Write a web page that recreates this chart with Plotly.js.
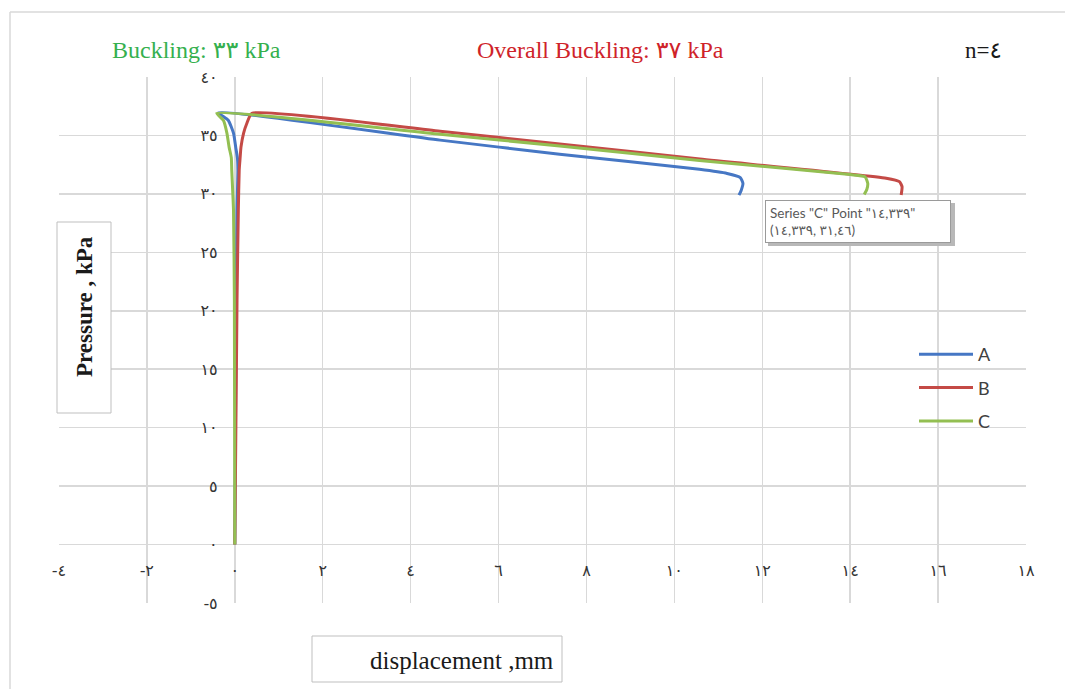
<!DOCTYPE html>
<html>
<head>
<meta charset="utf-8">
<script src="https://cdn.plot.ly/plotly-3.0.1.min.js"></script>
<style>
html,body{margin:0;padding:0;background:#fff;}
#chart{width:1065px;height:689px;}
</style>
</head>
<body>
<div id="chart"></div>
<script>
// Series A
const dispA = [0, 0.03, 0.05, 0.07, 0.06, 0.02, -0.03, -0.15, -0.37, 4.67, 7.39, 10.57, 11.2, 11.5, 11.56, 11.52, 11.47];
const presA = [0, 20.9, 28.6, 32.05, 33.05, 34.0, 35.2, 36.3, 36.95, 34.6, 33.4, 32.1, 31.75, 31.4, 30.9, 30.3, 29.9];
// Series B
const dispB = [0, 0.05, 0.08, 0.10, 0.12, 0.14, 0.20, 0.27, 0.39, 4.67, 7.39, 10.58, 14.82, 15.12, 15.18, 15.16];
const presB = [0, 20.9, 28.6, 32.05, 33.05, 34.0, 35.2, 36.0, 36.9, 35.36, 34.27, 32.98, 31.34, 31.05, 30.62, 29.9];
// Series C
const dispC = [0, -0.01, -0.03, -0.07, -0.08, -0.13, -0.18, -0.26, -0.41, 4.67, 7.39, 10.57, 14.0, 14.339, 14.40, 14.38, 14.32];
const presC = [0, 20.9, 28.6, 32.05, 33.1, 34.0, 35.2, 36.3, 36.9, 35.1, 34.1, 32.85, 31.65, 31.46, 30.9, 30.4, 29.95];

const seriesNames = ['A', 'B', 'C'];
const seriesColors = ['#4677c4', '#c44a46', '#93bf52'];

// Tick labels
const xTickVals = [-4, -2, 0, 2, 4, 6, 8, 10, 12, 14, 16, 18];
const xTickText = ['-٤', '-٢', '٠', '٢', '٤', '٦', '٨', '١٠', '١٢', '١٤', '١٦', '١٨'];
const yTickVals = [-5, 0, 5, 10, 15, 20, 25, 30, 35, 40];
const yTickText = ['-٥', '٠', '٥', '١٠', '١٥', '٢٠', '٢٥', '٣٠', '٣٥', '٤٠'];

// Texts
const buckText = 'Buckling: ٣٣ kPa';
const overallText = 'Overall Buckling: ٣٧ kPa';
const nText = 'n=٤';
const yTitle = 'Pressure , kPa';
const xTitle = 'displacement ,mm';
const tipText = 'Series "C" Point "١٤,٣٣٩"<br>(١٤,٣٣٩\u200E, ٣١,٤٦)';

const xs = [dispA, dispB, dispC];
const ys = [presA, presB, presC];
const traces = seriesNames.map((n, i) => ({
  x: xs[i], y: ys[i], name: n, type: 'scatter', mode: 'lines',
  legendgroup: n,
  line: {color: seriesColors[i], width: 3, shape: 'spline', smoothing: 0.5},
  hoverinfo: 'skip'
}));

const serif = 'Liberation Serif, Times New Roman, DejaVu Sans, serif';
const sans = 'Lato, Open Sans, DejaVu Sans, sans-serif';
const gridc = '#d9d9d9';

// paper helpers (plot area: left 59, right 1026, top 77, bottom 603)
const px = v => (v - 59) / 967;
const py = v => (603 - v) / 526;

const ann = (text, x, y, font, extra) => Object.assign({
  text: text, xref: 'paper', yref: 'paper', x: px(x), y: py(y),
  xanchor: 'center', yanchor: 'middle', showarrow: false, font: font
}, extra || {});

const layout = {
  width: 1065, height: 689,
  margin: {l: 59, r: 39, t: 77, b: 86},
  paper_bgcolor: '#ffffff', plot_bgcolor: '#ffffff',
  showlegend: true,
  legend: {
    x: px(914), y: py(336), xanchor: 'left', yanchor: 'top',
    font: {family: sans, size: 18, color: '#404040'},
    traceorder: 'grouped', tracegroupgap: 7, itemwidth: 54,
    bgcolor: 'rgba(0,0,0,0)', borderwidth: 0
  },
  xaxis: {
    range: [-4, 18], tickvals: xTickVals, ticktext: xTickText,
    showgrid: true, gridcolor: gridc, gridwidth: 1.5,
    zeroline: false, showline: false,
    anchor: 'free', position: 5 / 45,
    ticks: 'outside', ticklen: 11, tickcolor: 'rgba(0,0,0,0)',
    tickfont: {family: serif, size: 16, color: '#333333'},
    fixedrange: true
  },
  yaxis: {
    range: [-5, 40], tickvals: yTickVals, ticktext: yTickText,
    showgrid: true, gridcolor: gridc, gridwidth: 1.5,
    zeroline: false, showline: false,
    anchor: 'free', position: 4 / 22,
    ticks: 'outside', ticklen: 14, tickcolor: 'rgba(0,0,0,0)',
    tickfont: {family: serif, size: 16, color: '#333333'},
    fixedrange: true
  },
  shapes: [
    // outer frame (top and left edges)
    {type: 'line', xref: 'paper', yref: 'paper', x0: px(10), x1: px(1065), y0: py(12), y1: py(12), line: {color: '#d9d9d9', width: 1.5}},
    {type: 'line', xref: 'paper', yref: 'paper', x0: px(10), x1: px(10), y0: py(12), y1: py(689), line: {color: '#d9d9d9', width: 1.5}},
    // y title box
    {type: 'rect', xref: 'paper', yref: 'paper', x0: px(57), x1: px(111), y0: py(413), y1: py(222), line: {color: '#bfbfbf', width: 1}, fillcolor: '#ffffff'},
    // x title box
    {type: 'rect', xref: 'paper', yref: 'paper', x0: px(312), x1: px(562), y0: py(682), y1: py(636), line: {color: '#bfbfbf', width: 1}, fillcolor: '#ffffff'},
    // tooltip shadow
    {type: 'rect', xref: 'paper', yref: 'paper', layer: 'above', x0: px(768), x1: px(955), y0: py(246), y1: py(203), line: {width: 0}, fillcolor: '#b8b8b8'}
  ],
  annotations: [
    ann(buckText, 196, 50, {family: serif, size: 24, color: '#35b04e'}),
    ann(overallText, 600, 50, {family: serif, size: 24, color: '#cf2329'}),
    ann(nText, 983, 50, {family: serif, size: 23, color: '#1a1a1a'}),
    ann('<b>' + yTitle + '</b>', 84, 307, {family: serif, size: 23, color: '#1a1a1a'}, {textangle: -90}),
    ann(xTitle, 462, 660, {family: serif, size: 25, color: '#1a1a1a'}),
    {text: tipText, xref: 'paper', yref: 'paper', x: px(765), y: py(200), xanchor: 'left', yanchor: 'top',
     showarrow: false, align: 'left', bgcolor: '#ffffff', bordercolor: '#9a9a9a', borderwidth: 1, borderpad: 4,
     width: 176, height: 33,
     font: {family: sans, size: 13.5, color: '#595959'}}
  ]
};

Plotly.newPlot('chart', traces, layout, {displayModeBar: false, staticPlot: true});
</script>
</body>
</html>
